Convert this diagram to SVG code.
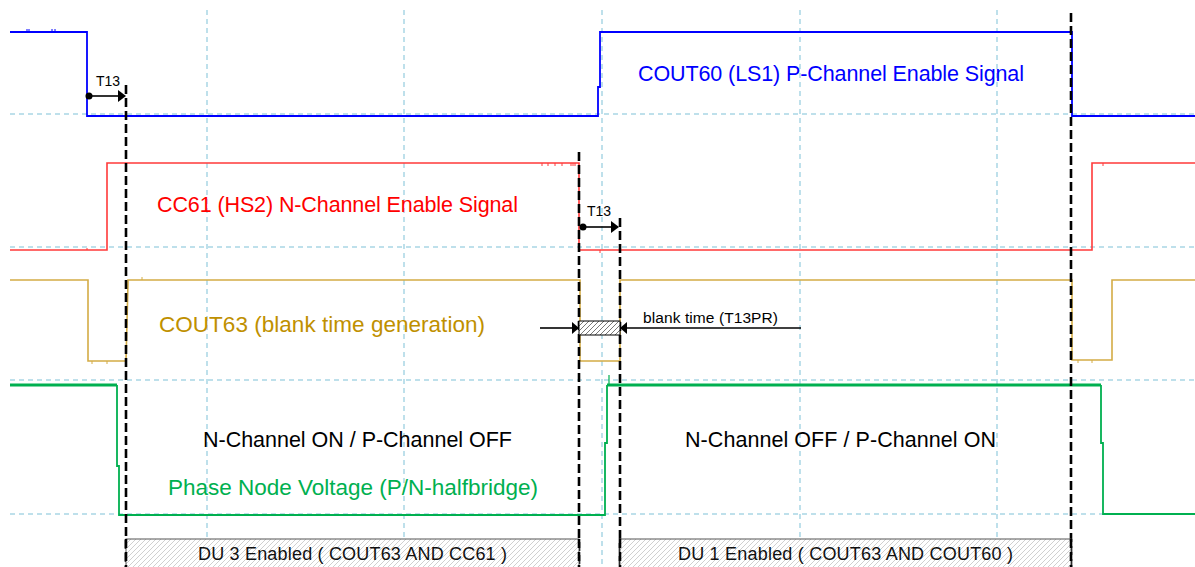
<svg xmlns="http://www.w3.org/2000/svg" width="1195" height="567" viewBox="0 0 1195 567">
<style>
.grid{stroke:#a9d6e5;stroke-width:1.5;stroke-dasharray:5 4;fill:none}
.tr{fill:none;stroke-linejoin:miter}
.mark{stroke:#000;stroke-width:2.6;stroke-dasharray:9 4;fill:none}
.lbl{font-family:"Liberation Sans",Arial,sans-serif;font-size:21.5px}
.lbl2{font-family:"Liberation Sans",Arial,sans-serif;font-size:22.5px}
.sm{font-family:"Liberation Sans",Arial,sans-serif;font-size:14px;fill:#000}
.bt{font-family:"Liberation Sans",Arial,sans-serif;font-size:15.5px;fill:#000}
.du{font-family:"Liberation Sans",Arial,sans-serif;font-size:18px;fill:#111}
.arr{stroke:#000;stroke-width:1.6;fill:none}
</style>
<defs>
<pattern id="hatchL" width="5" height="5" patternUnits="userSpaceOnUse">
<rect width="5" height="5" fill="#fff"/>
<path d="M0,5 L5,0 M-1,1 L1,-1 M4,6 L6,4" stroke="#c4c4c4" stroke-width="0.8"/>
</pattern>
<pattern id="hatchD" width="5" height="5" patternUnits="userSpaceOnUse">
<rect width="5" height="5" fill="#fff"/>
<path d="M0,5 L5,0 M-1,1 L1,-1 M4,6 L6,4" stroke="#555" stroke-width="0.8"/>
</pattern>
</defs>
<rect width="1195" height="567" fill="#fff"/>
<g id="grid">
<path class="grid" d="M10,114H1195M10,247H1195M10,380H1195M10,514H1195"/>
<path class="grid" d="M207,10V567M404,10V567M602,10V567M800,10V567M997,10V567"/>
</g>
<g id="traces">
<g id="blue-trace">
<path class="tr" stroke="#0000ff" stroke-width="1.8" d="M10,32H87V116H598V87H600V32H1072V116H1195"/>
<path stroke="#0000ff" stroke-width="1" d="M27,32V29M29,32V29M52,32V29M55,32V29"/>
</g>
<g id="red-trace">
<path class="tr" stroke="#ff3a3a" stroke-width="1.6" d="M10,250H107V163H579V250H1092V163H1195"/>
<path stroke="#ff3a3a" stroke-width="1" d="M87,250V248M542,163V166M548,163V166M555,163V166M562,163V166M571,163V166M573,163V166M575,163V166M600,250V253M1103,163V166"/>
</g>
<g id="gold-trace">
<path class="tr" stroke="#d4ac45" stroke-width="1.6" d="M10,280H88V361H126L128,283V280H580V361H620V280H1072V360H1112V280H1195"/>
<path stroke="#d4ac45" stroke-width="1" d="M92,361V364M107,361V364M142,280V277M1078,360V363M1092,360V363"/>
</g>
<g id="green-trace">
<path class="tr" stroke="#00b050" stroke-width="3" d="M10,385H117"/>
<path class="tr" stroke="#00b050" stroke-width="1.8" d="M117,385V466H119V515H605V443H607V385"/>
<path class="tr" stroke="#00b050" stroke-width="1.2" d="M609,386V375"/>
<path class="tr" stroke="#00b050" stroke-width="3" d="M607,385H1101"/>
<path class="tr" stroke="#00b050" stroke-width="1.8" d="M1101,385V443H1103V514H1195"/>
</g>
</g>
<g id="markers">
<path class="mark" d="M126,85V567"/>
<path class="mark" d="M579,152V567"/>
<path class="mark" d="M620,218V567"/>
<path class="mark" d="M1071,13V567"/>
</g>
<g id="t13-1">
<circle cx="89" cy="96" r="3.5" fill="#000"/>
<path class="arr" d="M89,96H119"/>
<polygon points="118,90 126,96 118,102" fill="#000"/>
<text class="sm" x="96" y="86">T13</text>
</g>
<g id="t13-2">
<circle cx="583" cy="227" r="3.5" fill="#000"/>
<path class="arr" d="M583,227H612"/>
<polygon points="611,221 619,227 611,233" fill="#000"/>
<text class="sm" x="587" y="216">T13</text>
</g>
<g id="blank-time">
<rect x="579" y="321" width="41" height="14" fill="url(#hatchD)" stroke="#000" stroke-width="1"/>
<path class="arr" d="M540,328H572"/>
<polygon points="572,322 579,328 572,334" fill="#000"/>
<path class="arr" d="M627,328H801"/>
<polygon points="627,322 620,328 627,334" fill="#000"/>
<text class="bt" x="643" y="323" textLength="135">blank time (T13PR)</text>
</g>
<g id="labels">
<text class="lbl" x="638" y="81" fill="#0000ff" textLength="386">COUT60 (LS1) P-Channel Enable Signal</text>
<text class="lbl" x="157" y="212" fill="#ff0000" textLength="361">CC61 (HS2) N-Channel Enable Signal</text>
<text class="lbl2" x="159" y="332" fill="#bf9000" textLength="326">COUT63 (blank time generation)</text>
<text class="lbl" x="203" y="447" fill="#000" textLength="309">N-Channel ON / P-Channel OFF</text>
<text class="lbl" x="685" y="447" fill="#000" textLength="311">N-Channel OFF / P-Channel ON</text>
<text class="lbl2" x="168" y="495" fill="#00b050" textLength="370">Phase Node Voltage (P/N-halfbridge)</text>
</g>
<g id="du3">
<rect x="126" y="539" width="453" height="30" fill="url(#hatchL)" stroke="#555" stroke-width="1"/>
<text class="du" x="198" y="560" textLength="309">DU 3 Enabled ( COUT63 AND CC61 )</text>
</g>
<g id="du1">
<rect x="620" y="539" width="451" height="30" fill="url(#hatchL)" stroke="#555" stroke-width="1"/>
<text class="du" x="678" y="560" textLength="335">DU 1 Enabled ( COUT63 AND COUT60 )</text>
</g>
<g id="markers-over">
<path class="mark" d="M126,539V567M579,539V567M620,539V567M1071,539V567"/>
</g>
</svg>
